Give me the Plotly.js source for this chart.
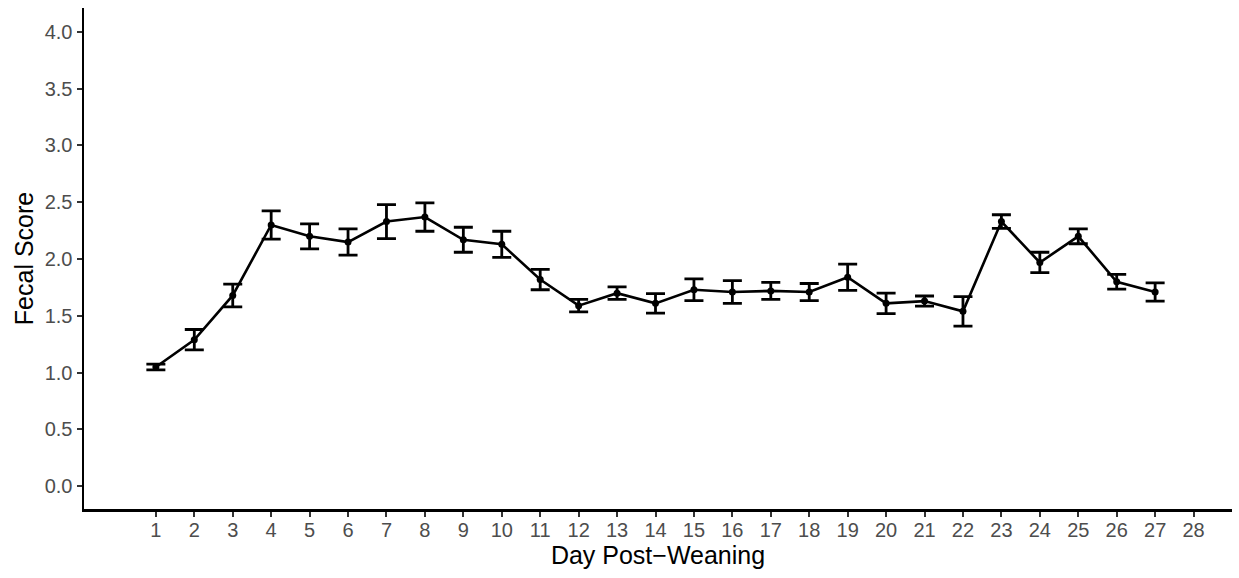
<!DOCTYPE html>
<html>
<head>
<meta charset="utf-8">
<script src="https://cdn.plot.ly/plotly-3.0.1.min.js"></script>
<style>html,body{margin:0;padding:0;background:#fff;}#chart{width:1239px;height:578px;}</style>
</head>
<body>
<div id="chart"></div>
<script>
const days = [1,2,3,4,5,6,7,8,9,10,11,12,13,14,15,16,17,18,19,20,21,22,23,24,25,26,27];
const fecalScore = [1.05,1.29,1.68,2.30,2.20,2.15,2.33,2.37,2.17,2.13,1.82,1.59,1.70,1.61,1.73,1.71,1.72,1.71,1.84,1.61,1.63,1.54,2.33,1.97,2.20,1.80,1.71];
const stdErr = [0.025,0.09,0.10,0.125,0.11,0.115,0.15,0.125,0.11,0.115,0.09,0.055,0.055,0.085,0.095,0.10,0.075,0.075,0.115,0.09,0.045,0.13,0.06,0.09,0.065,0.065,0.08];
const xTicks = [1,2,3,4,5,6,7,8,9,10,11,12,13,14,15,16,17,18,19,20,21,22,23,24,25,26,27,28];
const yTicks = [0,0.5,1,1.5,2,2.5,3,3.5,4];

const trace = {
  x: days, y: fecalScore, type: 'scatter', mode: 'lines+markers',
  line: {color: '#000', width: 2.6},
  marker: {color: '#000', size: 7},
  error_y: {type: 'data', array: stdErr, visible: true, color: '#000', thickness: 2.8, width: 9.5}
};
const fam = 'Liberation Sans, Arial, sans-serif';
const tickFont = {family: fam, size: 20, color: '#4d4d4d'};
const layout = {
  width: 1239, height: 578,
  margin: {l: 84, r: 7, t: 8, b: 69},
  paper_bgcolor: '#fff', plot_bgcolor: '#fff',
  showlegend: false,
  xaxis: {
    range: [-0.87, 29], tickmode: 'array', tickvals: xTicks, ticktext: xTicks.map(String),
    showgrid: false, zeroline: false, showline: true, linecolor: '#000', linewidth: 2.5,
    ticks: 'outside', ticklen: 5, tickwidth: 2, tickcolor: '#333',
    ticklabelstandoff: -4,
    tickfont: tickFont,
    title: {text: 'Day Post\u2212Weaning', font: {family: fam, size: 25, color: '#000'}, standoff: 4}
  },
  yaxis: {
    range: [-0.2, 4.21], tickmode: 'array', tickvals: yTicks, ticktext: yTicks.map(v => v.toFixed(1)),
    showgrid: false, zeroline: false, showline: true, linecolor: '#000', linewidth: 2.5,
    ticks: 'outside', ticklen: 5, tickwidth: 2, tickcolor: '#333',
    tickfont: tickFont,
    title: {text: 'Fecal Score', font: {family: fam, size: 25, color: '#000'}, standoff: 4}
  }
};
Plotly.newPlot('chart', [trace], layout, {displayModeBar: false, staticPlot: true});
</script>
</body>
</html>
